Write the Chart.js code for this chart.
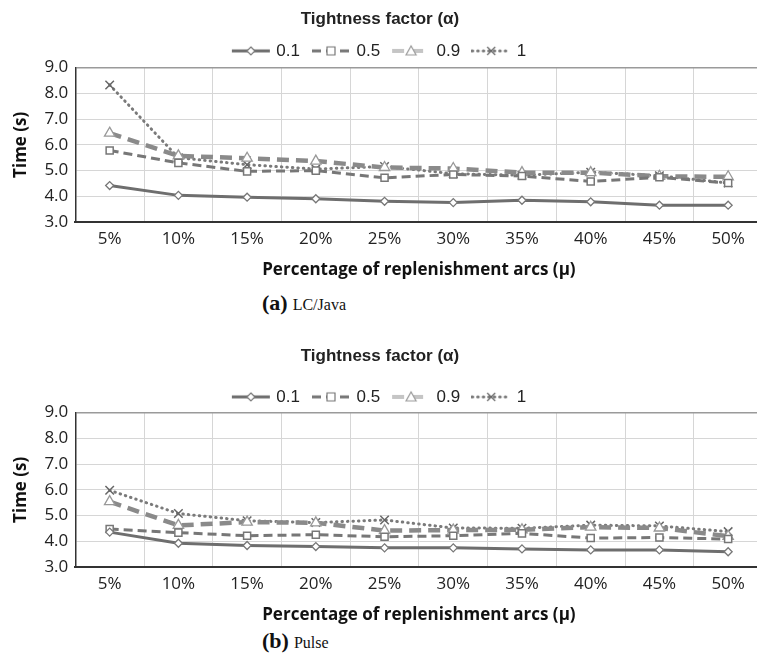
<!DOCTYPE html>
<html>
<head>
<meta charset="utf-8">
<script src="https://cdn.jsdelivr.net/npm/chart.js@4"></script>
<style>
  html, body { margin: 0; padding: 0; background: #fff; overflow: hidden; width: 757px; height: 661px; }
  .painel { position: absolute; left: 0; width: 770px; }
  .legenda { position: absolute; font-family: 'Liberation Serif', 'DejaVu Serif', serif; color: #111; white-space: nowrap; }
  .legenda b { font-size: 22px; }
  .legenda span { font-size: 16px; margin-left: 5px; }
</style>
</head>
<body>
<div class="painel" style="top:0;height:280px"><canvas id="graficoLC"></canvas></div>
<div class="legenda" style="left:262px;top:290px"><b>(a)</b><span>LC/Java</span></div>
<div class="painel" style="top:337px;height:288px"><canvas id="graficoPulse"></canvas></div>
<div class="legenda" style="left:262px;top:628px"><b>(b)</b><span>Pulse</span></div>
<script>
// Eixo X: percentual de arcos de reabastecimento
const categorias = ['5%', '10%', '15%', '20%', '25%', '30%', '35%', '40%', '45%', '50%'];
const fatores = ['0.1', '0.5', '0.9', '1'];

// Tempos (s) - LC/Java
const lcJava01 = [4.42, 4.04, 3.97, 3.91, 3.81, 3.76, 3.85, 3.79, 3.66, 3.66];
const lcJava05 = [5.78, 5.30, 4.97, 5.00, 4.72, 4.85, 4.79, 4.58, 4.74, 4.52];
const lcJava09 = [6.45, 5.57, 5.48, 5.37, 5.12, 5.08, 4.92, 4.92, 4.78, 4.76];
const lcJava1  = [8.32, 5.50, 5.23, 5.06, 5.16, 4.88, 4.82, 4.94, 4.80, 4.52];

// Tempos (s) - Pulse
const pulse01 = [4.36, 3.93, 3.84, 3.80, 3.75, 3.75, 3.71, 3.67, 3.67, 3.60];
const pulse05 = [4.48, 4.34, 4.22, 4.26, 4.18, 4.22, 4.31, 4.13, 4.15, 4.09];
const pulse09 = [5.54, 4.62, 4.75, 4.72, 4.42, 4.44, 4.45, 4.55, 4.52, 4.20];
const pulse1  = [5.98, 5.08, 4.80, 4.73, 4.83, 4.52, 4.51, 4.63, 4.60, 4.38];

const fonteTitulo = "'Liberation Sans', Arial, sans-serif";
const fonteEixo = "'Open Sans', sans-serif";

// estilos de cada serie (linha + marcador)
const estilos = [
    { borderColor: '#6e6e6e', borderWidth: 3, borderDash: [], pointStyle: 'rectRot', pointRadius: 4, pointBorderColor: '#777', pointBorderWidth: 1.3 },
    { borderColor: '#777777', borderWidth: 3, borderDash: [9, 5], pointStyle: 'rect', pointRadius: 5, pointBorderColor: '#777', pointBorderWidth: 1.5 },
    { borderColor: '#8a8a8a', borderWidth: 4.5, borderDash: [12, 7], pointStyle: 'triangle', pointRadius: 6, pointBorderColor: '#999', pointBorderWidth: 1.3 },
    { borderColor: '#7a7a7a', borderWidth: 3, borderDash: [0.5, 5], borderCapStyle: 'round', pointStyle: 'crossRot', pointRadius: 6, pointBorderColor: '#666', pointBorderWidth: 1.5 }
];

// desenha a amostra da legenda (linha com o marcador no meio)
function amostra(e) {
    const c = document.createElement('canvas');
    c.width = 40; c.height = 14;
    const g = c.getContext('2d');
    g.strokeStyle = e.borderColor;
    g.lineWidth = Math.min(e.borderWidth, 3);
    g.lineCap = e.borderCapStyle || 'butt';
    g.setLineDash(e.borderDash);
    g.beginPath(); g.moveTo(1, 7); g.lineTo(39, 7); g.stroke();
    if (e.pointStyle === 'triangle') {
        g.strokeStyle = '#fff'; g.lineWidth = 1.2;
        g.beginPath(); g.moveTo(1, 7); g.lineTo(39, 7); g.stroke();
    }
    g.setLineDash([]);
    g.lineCap = 'butt';
    g.fillStyle = '#fff';
    g.strokeStyle = e.pointBorderColor;
    g.lineWidth = 1.2;
    const r = 4;
    g.beginPath();
    if (e.pointStyle === 'rectRot') {
        g.moveTo(20, 7 - r); g.lineTo(20 + r, 7); g.lineTo(20, 7 + r); g.lineTo(20 - r, 7); g.closePath();
        g.fill(); g.stroke();
    } else if (e.pointStyle === 'rect') {
        g.rect(16, 3, 8, 8); g.fill(); g.stroke();
    } else if (e.pointStyle === 'triangle') {
        g.moveTo(20, 2); g.lineTo(25, 11); g.lineTo(15, 11); g.closePath(); g.fill(); g.stroke();
    } else {
        g.moveTo(16, 3); g.lineTo(24, 11); g.moveTo(24, 3); g.lineTo(16, 11); g.stroke();
    }
    return c;
}
const amostras = estilos.map(amostra);

// desloca titulo e legenda depois do layout (sem mexer na area do grafico)
const ajusteCabecalho = {
    id: 'ajusteCabecalho',
    afterLayout(chart, args, o) {
        [chart.titleBlock, chart.legend].forEach(b => {
            if (b) { b.left += o.dx; b.right += o.dx; }
        });
        if (chart.legend) { chart.legend.top += o.dy; chart.legend.bottom += o.dy; }
    }
};

function criaGrafico(id, series, espacoTitulo, descida) {
    const datasets = series.map((dados, i) => Object.assign({
        label: fatores[i],
        data: dados,
        fill: false,
        tension: 0,
        pointBackgroundColor: '#fff',
        order: i === 0 ? 0 : i + 2
    }, estilos[i]));
    // traço branco por dentro da série 0.9 (tracejado vazado)
    datasets.push({
        label: '',
        data: series[2],
        fill: false,
        borderColor: '#ffffff',
        borderWidth: 2.2,
        borderDash: [12, 7],
        pointRadius: 0,
        order: 4
    });

    new Chart(document.getElementById(id), {
        type: 'line',
        data: { labels: categorias, datasets: datasets },
        plugins: [ajusteCabecalho],
        options: {
            responsive: true,
            maintainAspectRatio: false,
            animation: false,
            events: [],
            layout: { padding: { left: 11, right: 7, top: 7, bottom: 0 } },
            plugins: {
                ajusteCabecalho: { dx: -7, dy: descida },
                tooltip: { enabled: false },
                title: {
                    display: true,
                    text: 'Tightness factor (α)',
                    color: '#222',
                    font: { family: fonteTitulo, size: 17, weight: 'bold' },
                    padding: { top: 2, bottom: espacoTitulo }
                },
                legend: {
                    display: true,
                    labels: {
                        usePointStyle: true,
                        pointStyleWidth: 34,
                        padding: 14,
                        color: '#222',
                        font: { family: fonteTitulo, size: 17 },
                        generateLabels: (chart) => {
                            const itens = Chart.defaults.plugins.legend.labels.generateLabels(chart);
                            return itens.filter(it => it.datasetIndex < 4).map(it => {
                                it.pointStyle = amostras[it.datasetIndex];
                                it.lineWidth = 0;
                                return it;
                            });
                        }
                    }
                }
            },
            scales: {
                x: {
                    offset: true,
                    grid: { offset: true, color: '#d6d6d6', lineWidth: 1, drawTicks: false },
                    border: { color: '#333', width: 2 },
                    ticks: { color: '#222', padding: 7, font: { family: fonteEixo, size: 17 } },
                    title: {
                        display: true,
                        text: 'Percentage of replenishment arcs (μ)',
                        color: '#111',
                        font: { family: fonteEixo, size: 17, weight: 'bold' },
                        padding: { top: 3, bottom: 0 }
                    }
                },
                y: {
                    min: 3,
                    max: 9,
                    grid: {
                        color: (ctx) => ctx.tick && ctx.tick.value === 9 ? '#9a9a9a' : '#d6d6d6',
                        lineWidth: (ctx) => ctx.tick && ctx.tick.value === 9 ? 1.5 : 1,
                        drawTicks: false
                    },
                    border: { color: '#333', width: 1.5 },
                    ticks: {
                        stepSize: 1,
                        color: '#222',
                        padding: 7,
                        font: { family: fonteEixo, size: 17 },
                        callback: (v) => v.toFixed(1)
                    },
                    title: {
                        display: true,
                        text: 'Time (s)',
                        color: '#111',
                        font: { family: fonteEixo, size: 17, weight: 'bold' },
                        padding: { top: 0, bottom: 6 }
                    }
                }
            }
        }
    });
}

criaGrafico('graficoLC', [lcJava01, lcJava05, lcJava09, lcJava1], -3, 2);
criaGrafico('graficoPulse', [pulse01, pulse05, pulse09, pulse1], 5, 3);
</script>
</body>
</html>
